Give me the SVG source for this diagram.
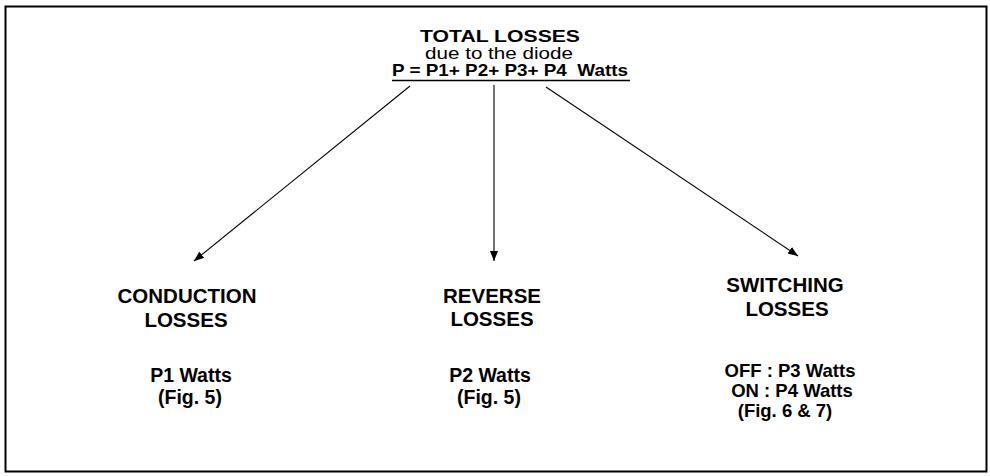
<svg xmlns="http://www.w3.org/2000/svg" width="990" height="476" viewBox="0 0 990 476">
<style>
.t{font-family:"Liberation Sans",Arial,Helvetica,sans-serif;fill:#000}
.b{font-weight:bold}
.h{font-size:16.5px}
.n{font-size:20.5px;font-weight:bold;text-anchor:middle}
.m{font-size:19.5px}
.s{font-size:18.5px}
.c{stroke:#000;stroke-width:1.1;fill:none}
</style>
<defs>
<marker id="ah" viewBox="0 0 10 8" refX="10" refY="4" markerWidth="10" markerHeight="8" markerUnits="userSpaceOnUse" orient="auto">
<path d="M0,0 L10,4 L0,8 Z" fill="#000"/>
</marker>
</defs>
<rect x="5.5" y="6.5" width="981" height="465" fill="#fff" stroke="#000" stroke-width="2"/>
<g id="total">
<text class="t b h" x="420" y="42" textLength="160" lengthAdjust="spacingAndGlyphs">TOTAL LOSSES</text>
<text class="t h" x="425" y="59" textLength="148" lengthAdjust="spacingAndGlyphs">due to the diode</text>
<text class="t b h" x="392" y="76" textLength="236" lengthAdjust="spacingAndGlyphs" xml:space="preserve">P = P1+ P2+ P3+ P4  Watts</text>
<line x1="392" y1="80.5" x2="630" y2="80.5" stroke="#000" stroke-width="1.5"/>
</g>
<g id="connectors">
<line class="c" x1="410" y1="86" x2="194" y2="261" marker-end="url(#ah)"/>
<line class="c" x1="494" y1="85" x2="494" y2="261" marker-end="url(#ah)"/>
<line class="c" x1="546" y1="87" x2="798" y2="256" marker-end="url(#ah)"/>
</g>
<g id="conduction">
<text class="t n" x="187" y="303">CONDUCTION</text>
<text class="t n" x="186" y="327">LOSSES</text>
<text class="t n m" x="191" y="382">P1 Watts</text>
<text class="t n m" x="190" y="404">(Fig. 5)</text>
</g>
<g id="reverse">
<text class="t n" x="492" y="303">REVERSE</text>
<text class="t n" x="492" y="326">LOSSES</text>
<text class="t n m" x="490" y="382">P2 Watts</text>
<text class="t n m" x="489" y="404">(Fig. 5)</text>
</g>
<g id="switching">
<text class="t n" x="785" y="292">SWITCHING</text>
<text class="t n" x="787" y="316">LOSSES</text>
<text class="t n s" x="790" y="377">OFF : P3 Watts</text>
<text class="t n s" x="792" y="397">ON : P4 Watts</text>
<text class="t n s" x="785" y="417">(Fig. 6 &amp; 7)</text>
</g>
</svg>
